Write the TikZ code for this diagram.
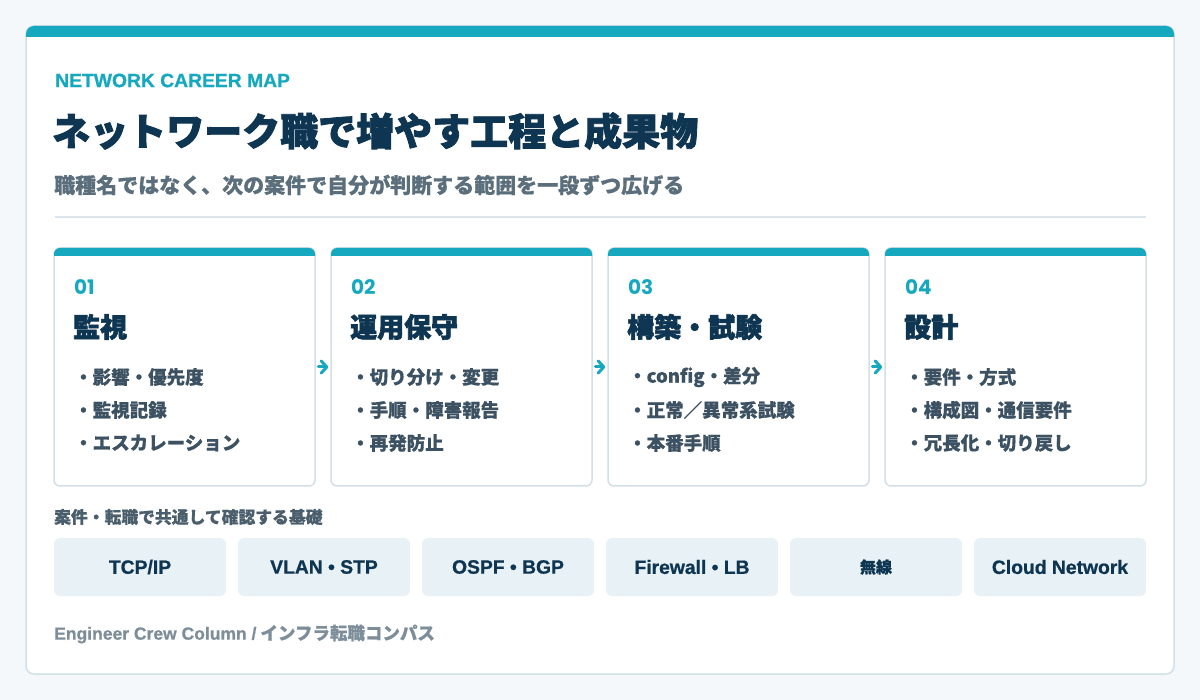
\documentclass[tikz,border=0pt]{standalone}
\usepackage{fontspec}
\setmainfont{Noto Sans CJK JP}[BoldFeatures={FakeBold=0.6}]
\newfontfamily\jpheavy{Noto Sans CJK JP}[BoldFeatures={FakeBold=2.2}]
\newfontfamily\lat{Liberation Sans}[BoldFeatures={FakeBold=0.8}]
\newfontfamily\pop{Poppins}
\usetikzlibrary{arrows.meta}
\definecolor{bgc}{HTML}{F4F8FB}
\definecolor{cardline}{HTML}{D3DFE7}
\definecolor{tealc}{HTML}{15A8BF}
\definecolor{navy}{HTML}{0E3551}
\definecolor{subg}{HTML}{5B6E7C}
\definecolor{bulg}{HTML}{3C5161}
\definecolor{pillf}{HTML}{E8F1F5}
\definecolor{footg}{HTML}{7D8E9A}
\definecolor{sepc}{HTML}{DCE5EB}
\definecolor{labg}{HTML}{4A5E6C}
\tikzset{
  txt/.style={inner sep=0pt, anchor=west},
  kicker/.style={txt, text=tealc, font=\lat\bfseries\fontsize{19.3}{19.3}\selectfont},
  headline/.style={txt, text=navy, font=\jpheavy\bfseries\fontsize{38}{38}\selectfont},
  subline/.style={txt, text=subg, font=\bfseries\fontsize{21}{21}\selectfont},
  card/.style={draw=cardline, line width=1.5pt, fill=white, rounded corners=6pt, minimum width=261pt, minimum height=238pt, inner sep=0pt},
  stepnum/.style={txt, text=tealc, font=\pop\bfseries\fontsize{20}{20}\selectfont},
  stephead/.style={txt, text=navy, font=\jpheavy\bfseries\fontsize{27}{27}\selectfont},
  bullet/.style={txt, text=bulg, font=\bfseries\fontsize{18.5}{18.5}\selectfont},
  flow/.style={draw=tealc, line width=3pt, line cap=round, -{Straight Barb[length=5.5pt,width=12pt,line cap=round,line join=round]}, shorten <=2.5pt, shorten >=2pt},
  pill/.style={fill=pillf, rounded corners=6pt, minimum width=172pt, minimum height=58pt, inner sep=0pt, text=navy, font=\lat\bfseries\fontsize{19.3}{19.3}\selectfont},
  baselabel/.style={txt, text=labg, font=\bfseries\fontsize{16.8}{16.8}\selectfont},
  footer/.style={txt, text=footg, font=\bfseries\fontsize{17.5}{17.5}\selectfont},
}
\begin{document}
\begin{tikzpicture}[x=1pt,y=-1pt]
\useasboundingbox (0,0) rectangle (1200,700);
\fill[bgc] (0,0) rectangle (1200,700);
% main card
\node[draw=cardline, line width=1.5pt, fill=white, rounded corners=8pt, minimum width=1148pt, minimum height=648pt, inner sep=0pt] (main) at (600,350) {};
\begin{scope}
  \clip[rounded corners=8pt] (26,26) rectangle (1174,674);
  \fill[tealc] (24,24) rectangle (1176,37.5);
\end{scope}
% header texts
\node[kicker] (kick) at (55,80.5) {NETWORK CAREER MAP};
\node[headline] (title) at (52,131) {ネットワーク職で増やす工程と成果物};
\node[subline] (sub) at (54,185) {職種名ではなく、次の案件で自分が判断する範囲を一段ずつ広げる};
\coordinate (sepL) at (55,217);
\coordinate (sepR) at (1146,217);
\draw[sepc, line width=1.2pt] (sepL) -- (sepR);
% cards
\foreach \i/\cx in {1/184.5, 2/461.5, 3/738.5, 4/1015.5}{
  \node[card] (c\i) at (\cx,367) {};
  \begin{scope}
    \clip[rounded corners=6pt] (\cx-130.5,248) rectangle (\cx+130.5,486);
    \fill[tealc] (\cx-132,246) rectangle (\cx+132,256);
  \end{scope}
}
% card 1
\node[stepnum] (n1) at (74,287) {01};
\node[stephead] (h1) at (73,327) {監視};
\node[bullet] (b11) at (74,377) {・影響・優先度};
\node[bullet] (b12) at (74,410) {・監視記録};
\node[bullet] (b13) at (74,443) {・エスカレーション};
% card 2
\node[stepnum] (n2) at (351,287) {02};
\node[stephead] (h2) at (350,327) {運用保守};
\node[bullet] (b21) at (351,377) {・切り分け・変更};
\node[bullet] (b22) at (351,410) {・手順・障害報告};
\node[bullet] (b23) at (351,443) {・再発防止};
% card 3
\node[stepnum] (n3) at (628,287) {03};
\node[stephead] (h3) at (627,327) {構築・試験};
\node[bullet] (b31) at (628,377) {・config・差分};
\node[bullet] (b32) at (628,410) {・正常／異常系試験};
\node[bullet] (b33) at (628,443) {・本番手順};
% card 4
\node[stepnum] (n4) at (905,287) {04};
\node[stephead] (h4) at (904,327) {設計};
\node[bullet] (b41) at (905,377) {・要件・方式};
\node[bullet] (b42) at (905,410) {・構成図・通信要件};
\node[bullet] (b43) at (905,443) {・冗長化・切り戻し};
% arrows
\draw[flow] (c1.east) -- (c2.west);
\draw[flow] (c2.east) -- (c3.west);
\draw[flow] (c3.east) -- (c4.west);
% basics
\node[baselabel] (blab) at (54,517) {案件・転職で共通して確認する基礎};
\node[pill] (p1) at (140,567) {TCP/IP};
\node[pill] (p2) at (324,567) {VLAN • STP};
\node[pill] (p3) at (508,567) {OSPF • BGP};
\node[pill] (p4) at (692,567) {Firewall • LB};
\node[pill, font=\bfseries\fontsize{16}{16}\selectfont] (p5) at (876,567) {無線};
\node[pill] (p6) at (1060,567) {Cloud Network};
% footer
\node[footer] (foot) at (54,634) {{\lat Engineer Crew Column /} インフラ転職コンパス};
\end{tikzpicture}
\end{document}
